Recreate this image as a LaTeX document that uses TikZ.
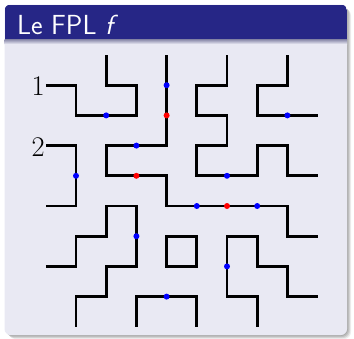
\documentclass[tikz,border=0pt]{standalone}
\usepackage{fontspec}
\definecolor{titlebg}{RGB}{38,38,134}
\definecolor{bodybg}{RGB}{233,233,243}
\begin{document}
\begin{tikzpicture}[x=1pt,y=-1pt,
  fpl/.style={line width=2.7pt, line join=miter, black},
  bdot/.style={fill=blue},
  rdot/.style={fill=red},
  lbl/.style={anchor=east, inner sep=0.8pt, yshift=-1.3pt, font=\fontsize{28.5}{32}\selectfont}]
\useasboundingbox (0,0) rectangle (354,338);
% shadow
\foreach \d/\op in {1/0.10,2/0.10,3/0.10,4/0.07}{
  \fill[black,opacity=\op,rounded corners=7pt] (4.5+\d,4.5+\d) rectangle (347+\d,335+\d);
}
% block
\fill[bodybg,rounded corners=6pt] (4.5,4.5) rectangle (347,335);
\begin{scope}
  \clip[rounded corners=6pt] (4.5,4.5) rectangle (347,335);
  \fill[titlebg] (4.5,4.5) rectangle (347,39.8);
  \shade[top color=titlebg!45!gray!60!bodybg, bottom color=bodybg] (4.5,39.8) rectangle (347,44);
\end{scope}
\node[anchor=base west, text=white, inner sep=0pt, font=\sffamily\fontsize{27.6}{32}\selectfont] (title) at (16.8,34) {Le FPL \textit{f}};
% grid
\begin{scope}[shift={(45.8pt,-55pt)}, x=30.2pt, y=-30.2pt]
  \draw[fpl] (0,1)--(1,1)--(1,2)--(3,2)--(3,1)--(2,1)--(2,0);
  \draw[fpl] (4,0)--(4,3)--(2,3)--(2,4)--(4,4)--(4,5)--(8,5)--(8,6)--(9,6);
  \draw[fpl] (0,3)--(1,3)--(1,5)--(0,5);
  \draw[fpl] (6,0)--(6,1)--(5,1)--(5,2)--(6,2)--(6,3)--(5,3)--(5,4)--(7,4)--(7,3)--(8,3)--(8,4)--(9,4);
  \draw[fpl] (8,0)--(8,1)--(7,1)--(7,2)--(9,2);
  \draw[fpl] (0,7)--(1,7)--(1,6)--(2,6)--(2,5)--(3,5)--(3,7)--(2,7)--(2,8)--(1,8)--(1,9);
  \draw[fpl] (3,9)--(3,8)--(5,8)--(5,9);
  \draw[fpl] (4,6)--(5,6)--(5,7)--(4,7)--cycle;
  \draw[fpl] (7,9)--(7,8)--(6,8)--(6,6)--(7,6)--(7,7)--(8,7)--(8,8)--(9,8);
  % dots
  \foreach \p in {(2,2),(4,1),(3,3),(5,5),(7,5),(1,4),(6,4),(8,2),(3,6),(4,8),(6,7)}
    \fill[bdot] \p circle[radius=3pt];
  \foreach \p in {(4,2),(3,4),(6,5)}
    \fill[rdot] \p circle[radius=3pt];
  % labels
  \node[lbl] (one) at (0,1) {1};
  \node[lbl] (two) at (0,3) {2};
\end{scope}
\end{tikzpicture}
\end{document}
